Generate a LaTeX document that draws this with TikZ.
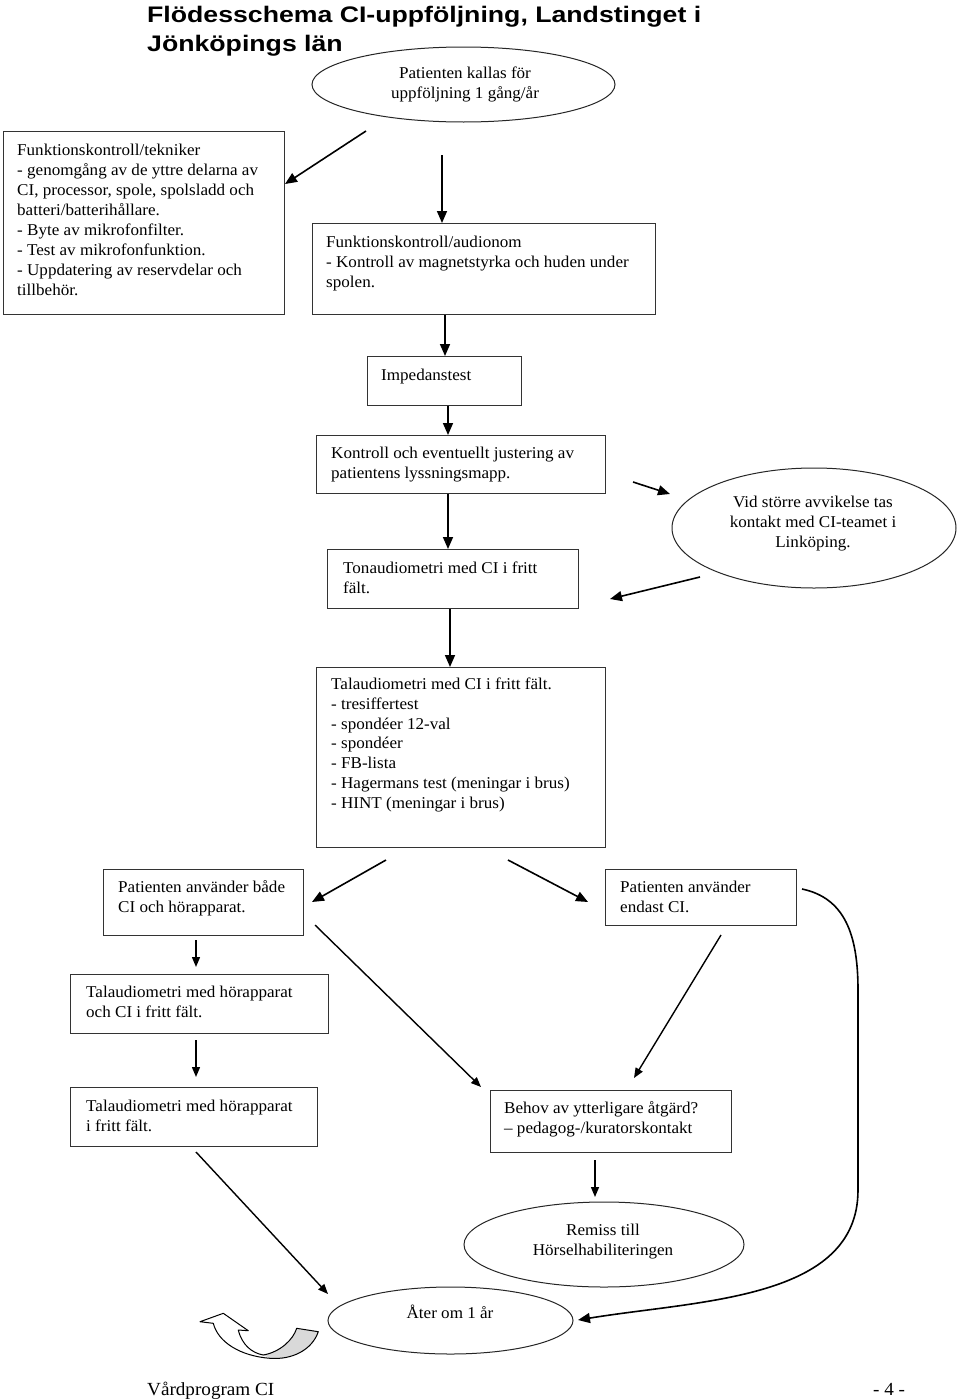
\documentclass[tikz,border=0pt]{standalone}
\usepackage{fontspec}
\setmainfont{Liberation Serif}[FakeStretch=1.035]
\newfontfamily\titlefont{Liberation Sans}[FakeStretch=1.185]
\usetikzlibrary{arrows.meta,shapes.geometric}
\newcommand\bodyfnt{\fontsize{16.5}{19.9}\selectfont}
\begin{document}
\begin{tikzpicture}[x=1pt,y=-1pt,
  box/.style={draw=black!80, line width=1.1pt, anchor=north west, inner sep=0},
  ell/.style={draw=black!85, line width=1pt, ellipse, inner sep=0},
  txt/.style={anchor=north west, inner sep=0, yshift=13.93pt, font=\bodyfnt, align=left},
  ctxt/.style={anchor=north, inner sep=0, yshift=13.93pt, font=\bodyfnt, align=center},
  arr/.style={line width=1.6pt, -{Triangle[length=12pt,width=10pt]}},
  sarr/.style={line width=1.4pt, -{Triangle[length=10pt,width=8pt]}},
  ttl/.style={anchor=base west, inner sep=0, font=\titlefont\bfseries\fontsize{22.5}{28}\selectfont}]
\useasboundingbox (0,0) rectangle (960,1400);
\fill[white] (0,0) rectangle (960,1400);

% title
\node[ttl] (title1) at (147,22) {Flödesschema CI-uppföljning, Landstinget i};
\node[ttl] (title2) at (147,51) {Jönköpings län};

% ellipses
\node[ell, minimum width=303pt, minimum height=75pt] (e1) at (463.5,84.5) {};
\node[ctxt] (e1t) at (465,78) {\strut Patienten kallas för\\uppföljning 1 gång/år};
\node[ell, minimum width=284pt, minimum height=120pt] (vid) at (814,528) {};
\node[ctxt] (vidt) at (813,507) {\strut Vid större avvikelse tas\\kontakt med CI-teamet i\\Linköping.};
\node[ell, minimum width=280pt, minimum height=85pt] (rem) at (604,1244.5) {};
\node[ctxt] (remt) at (603,1235) {\strut Remiss till\\Hörselhabiliteringen};
\node[ell, minimum width=245pt, minimum height=67pt] (ater) at (450.5,1320.5) {};
\node[anchor=base, inner sep=0, font=\bodyfnt] (atert) at (450,1318) {Åter om 1 år};

% boxes
\node[box, minimum width=280.5pt, minimum height=183pt] (tek) at (3,131) {};
\node[txt] (tekt) at (17,155.7) {\strut Funktionskontroll/tekniker\\- genomgång av de yttre delarna av\\CI, processor, spole, spolsladd och\\batteri/batterihållare.\\- Byte av mikrofonfilter.\\- Test av mikrofonfunktion.\\- Uppdatering av reservdelar och\\tillbehör.};
\node[box, minimum width=343pt, minimum height=91pt] (aud) at (312,223) {};
\node[txt] (audt) at (326,247) {\strut Funktionskontroll/audionom\\- Kontroll av magnetstyrka och huden under\\spolen.};
\node[box, minimum width=154pt, minimum height=49pt] (imp) at (367,356) {};
\node[txt] (impt) at (381,380) {\strut Impedanstest};
\node[box, minimum width=289pt, minimum height=58pt] (kon) at (316,435) {};
\node[txt] (kont) at (331,458) {\strut Kontroll och eventuellt justering av\\patientens lyssningsmapp.};
\node[box, minimum width=251pt, minimum height=59pt] (ton) at (327,549) {};
\node[txt] (tont) at (343,573) {\strut Tonaudiometri med CI i fritt\\fält.};
\node[box, minimum width=289pt, minimum height=180pt] (tal) at (316,667) {};
\node[txt] (talt) at (331,689) {\strut Talaudiometri med CI i fritt fält.\\- tresiffertest\\- spondéer 12-val\\- spondéer\\- FB-lista\\- Hagermans test (meningar i brus)\\- HINT (meningar i brus)};
\node[box, minimum width=200pt, minimum height=66pt] (bad) at (103,869) {};
\node[txt] (badt) at (118,892) {\strut Patienten använder både\\CI och hörapparat.};
\node[box, minimum width=191pt, minimum height=56pt] (end) at (605,869) {};
\node[txt] (endt) at (620,892) {\strut Patienten använder\\endast CI.};
\node[box, minimum width=258pt, minimum height=59pt] (thci) at (70,974) {};
\node[txt] (thcit) at (86,997) {\strut Talaudiometri med hörapparat\\och CI i fritt fält.};
\node[box, minimum width=247pt, minimum height=59pt] (th) at (70,1087) {};
\node[txt] (tht) at (86,1111) {\strut Talaudiometri med hörapparat\\i fritt fält.};
\node[box, minimum width=241pt, minimum height=62pt] (beh) at (490,1090) {};
\node[txt] (beht) at (504,1113) {\strut Behov av ytterligare åtgärd?\\– pedagog-/kuratorskontakt};

% footer
\node[anchor=base west, inner sep=0, font=\fontsize{18.5}{22}\selectfont] (foot) at (147,1395) {Vårdprogram CI};
\node[anchor=base west, inner sep=0, font=\fontsize{18.5}{22}\selectfont] (page) at (873,1395) {- 4 -};

% connector end points
\coordinate (c1a) at (366,131);  \coordinate (c1b) at (285,184);
\coordinate (c2a) at (442,155);
\coordinate (c6a) at (633,482);  \coordinate (c6b) at (670,494);
\coordinate (c7a) at (700,577);  \coordinate (c7b) at (610,599);
\coordinate (c9a) at (386,860);  \coordinate (c9b) at (312,902);
\coordinate (c10a) at (508,860); \coordinate (c10b) at (588,902);
\coordinate (c11a) at (196,940); \coordinate (c11b) at (196,967);
\coordinate (c12a) at (315,925); \coordinate (c12b) at (481,1087);
\coordinate (c13a) at (721,935); \coordinate (c13b) at (634,1078);
\coordinate (c14a) at (196,1040); \coordinate (c14b) at (196,1077);
\coordinate (c15a) at (595,1160); \coordinate (c15b) at (595,1197);
\coordinate (c16a) at (196,1152); \coordinate (c16b) at (328,1294);
\coordinate (c17a) at (802,889); \coordinate (c17b) at (578,1320);

% connectors
\draw[arr] (c1a) -- (c1b);
\draw[arr] (c2a) -- (c2a |- aud.north);
\draw[arr] (445,0 |- aud.south) -- (445,0 |- imp.north);
\draw[arr] (448,0 |- imp.south) -- (448,0 |- kon.north);
\draw[arr] (448,0 |- kon.south) -- (448,0 |- ton.north);
\draw[arr] (c6a) -- (c6b);
\draw[arr] (c7a) -- (c7b);
\draw[arr] (450,0 |- ton.south) -- (450,0 |- tal.north);
\draw[arr] (c9a) -- (c9b);
\draw[arr] (c10a) -- (c10b);
\draw[sarr] (c11a) -- (c11b);
\draw[sarr] (c12a) -- (c12b);
\draw[sarr] (c13a) -- (c13b);
\draw[sarr] (c14a) -- (c14b);
\draw[sarr] (c15a) -- (c15b);
\draw[sarr] (c16a) -- (c16b);
\draw[arr] (c17a) .. controls (845,898) and (858,935) .. (858,990) -- (858,1190) .. controls (858,1300) and (700,1300) .. (c17b);

% u-turn block arrow
\fill[gray!30] (263.3,1355) .. controls (280,1352) and (293,1340) .. (296.7,1328.3) -- (318.3,1331.7) .. controls (312,1350) and (292,1360) .. (270,1358.3) -- cycle;
\draw[line width=1pt, line join=round] (213.3,1323.3) -- (200,1321.7) -- (223.3,1313.3) -- (248.3,1330.7) -- (238.3,1330) .. controls (242,1345) and (252,1353) .. (263.3,1355) .. controls (280,1352) and (293,1340) .. (296.7,1328.3) -- (318.3,1331.7) .. controls (312,1350) and (292,1360) .. (270,1358.3) .. controls (240,1356) and (218,1342) .. (213.3,1323.3) -- cycle;
\end{tikzpicture}
\end{document}
